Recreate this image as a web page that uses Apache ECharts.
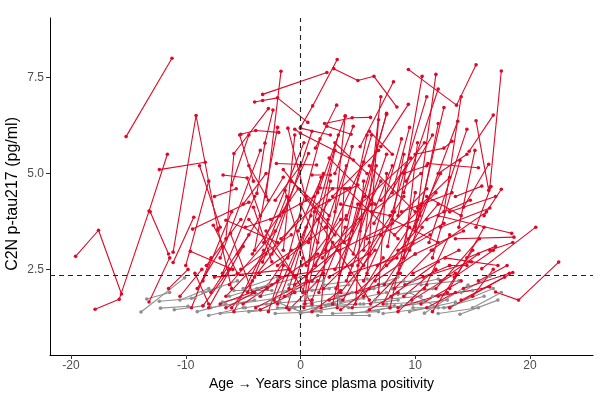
<!DOCTYPE html>
<html lang="en">
<head>
  <meta charset="UTF-8" />
  <title>C2N p-tau217 trajectories</title>
  <script src="https://cdn.jsdelivr.net/npm/echarts@6.0.0/dist/echarts.min.js"></script>
  <style>
    body { margin: 0; background: #fff; }
    #chart { width: 600px; height: 400px; }
  </style>
</head>
<body>
  <div id="chart"></div>
  <script>
    // tick positions
    const xTicks = [-20, -10, 0, 10, 20];
    const yTicks = [2.5, 5.0, 7.5];

    // reference lines
    const thresholdY = 2.35;
    const positivityX = 0;

    // subjects who cross the threshold at some visit: [years, pg/ml] per visit
    const redSubjects = [
      [[-15.2,5.96],[-11.2,8.0]],
      [[-11.1,2.95],[-9.1,6.51],[-7.2,3.52]],
      [[-12.3,5.1],[-8.3,5.29]],
      [[-17.9,1.46],[-15.8,1.72],[-13.2,4.02],[-11.6,5.5]],
      [[-19.6,2.84],[-17.6,3.52],[-15.6,1.86]],
      [[-13.1,4.0],[-11.5,2.9]],
      [[-13.2,1.65],[-11.4,2.8]],
      [[-9.4,3.55],[-4.5,4.25]],
      [[-9.6,2.97],[-5.9,2.5]],
      [[-11.1,2.68],[-9.3,3.86]],
      [[-9.2,2.4],[-8.0,1.6]],
      [[-6.5,3.3],[-5.8,5.52],[-2.8,6.69]],
      [[-5.2,6.02],[-3.9,6.12],[-1.9,6.07]],
      [[-6.75,4.96],[-4.65,4.88],[-3.5,3.9]],
      [[-3.0,4.4],[-1.7,7.66]],
      [[-3.3,7.06],[2.3,7.63]],
      [[0.0,6.2],[1.06,6.76],[3.2,7.97]],
      [[2.9,7.73],[5.0,7.42],[6.4,7.53],[8.4,6.73]],
      [[-4.0,6.86],[-3.3,6.9],[-2.0,6.97],[0.64,6.33]],
      [[9.4,7.71],[13.6,6.78],[15.3,7.83]],
      [[16.5,4.64],[17.5,7.67]],
      [[14.7,5.58],[16.8,6.52]],
      [[15.3,6.37],[16.4,4.56]],
      [[8.5,3.9],[10.6,7.53]],
      [[10.0,3.6],[11.8,7.58]],
      [[5.2,5.7],[8.1,7.39]],
      [[7.0,5.7],[9.4,6.8]],
      [[10.0,3.5],[12.5,6.72]],
      [[9.5,3.0],[13.7,6.36]],
      [[11.2,3.2],[14.5,6.15]],
      [[10.0,5.5],[12.5,5.66],[13.2,5.84]],
      [[11.1,5.26],[15.5,5.15]],
      [[11.5,2.8],[13.9,5.34]],
      [[14.2,4.12],[16.4,5.24]],
      [[15.3,3.6],[16.6,4.66]],
      [[16.0,3.9],[17.5,4.59]],
      [[13.5,4.4],[15.8,4.67]],
      [[17.0,1.91],[19.0,1.7],[22.5,2.69]],
      [[15.8,2.52],[20.5,3.6]],
      [[12.0,3.9],[18.4,3.44]],
      [[13.5,3.3],[18.6,3.34]],
      [[13.0,1.5],[18.5,2.42]],
      [[12.0,1.8],[16.5,2.04]],
      [[13.0,2.6],[14.5,2.6]],
      [[-5.3,6.0],[-4.1,4.8]],
      [[-2.1,5.26],[1.4,5.22]],
      [[-1.5,4.0],[0.7,5.52]],
      [[0.0,6.18],[2.6,6.0]],
      [[2.1,6.3],[4.5,6.45],[6.1,6.46]],
      [[1.5,4.5],[3.9,6.49]],
      [[3.0,5.0],[4.6,6.23]],
      [[4.5,3.5],[7.5,6.54]],
      [[1.0,4.96],[2.6,4.96]],
      [[1.7,4.62],[4.3,4.62]],
      [[-3.8,4.48],[-3.1,5.79],[-2.4,6.65]],
      [[-1.1,6.18],[0.5,4.3]],
      [[-7.6,3.65],[-5.5,2.4]],
      [[-7.2,3.55],[-6.0,2.0]],
      [[-6.5,3.78],[-2.0,3.2]],
      [[-6.1,3.44],[-4.2,1.9]],
      [[-4.1,4.12],[-2.5,2.7]],
      [[-1.35,4.56],[0.5,2.6]],
      [[-3.3,2.69],[-1.0,4.3]],
      [[0.0,3.08],[2.5,4.3]],
      [[0.8,2.74],[3.5,3.8]],
      [[-2.0,1.6],[0.5,3.6]],
      [[-1.0,2.0],[1.8,4.9]],
      [[0.2,1.9],[3.0,5.6]],
      [[0.5,2.3],[4.0,3.9]],
      [[1.0,1.7],[2.8,3.2]],
      [[1.3,2.6],[5.5,5.3]],
      [[2.0,2.0],[6.0,3.2]],
      [[2.2,3.0],[4.5,5.7]],
      [[2.8,1.6],[5.0,4.2]],
      [[3.0,2.5],[7.0,4.8]],
      [[3.5,1.9],[6.5,3.0]],
      [[3.8,3.2],[5.8,6.0]],
      [[4.0,2.2],[8.0,5.2]],
      [[4.5,1.5],[7.2,2.8]],
      [[5.0,2.6],[9.0,4.4]],
      [[5.2,3.5],[7.5,5.5]],
      [[5.5,1.8],[9.5,3.6]],
      [[6.0,2.9],[8.8,5.9]],
      [[6.2,4.0],[10.5,5.0]],
      [[6.5,2.2],[10.0,2.9]],
      [[7.0,3.4],[11.0,4.6]],
      [[7.2,1.6],[9.8,3.2]],
      [[7.5,2.6],[12.0,4.2]],
      [[8.0,4.5],[9.5,6.2]],
      [[8.2,2.0],[11.5,3.0]],
      [[8.5,3.0],[12.5,3.7]],
      [[9.0,1.8],[11.8,2.5]],
      [[9.2,4.8],[11.5,6.0]],
      [[9.8,2.4],[13.8,3.0]],
      [[10.2,4.1],[13.0,4.9]],
      [[10.5,1.6],[14.0,2.2]],
      [[11.0,3.8],[14.8,4.3]],
      [[12.2,2.2],[15.5,2.9]],
      [[14.0,1.7],[17.8,2.3]],
      [[-1.5,5.1],[3.0,3.4]],
      [[0.5,4.4],[5.5,2.6]],
      [[2.5,5.4],[6.5,4.2]],
      [[4.0,4.6],[8.5,3.3]],
      [[-4.5,3.8],[-0.5,2.3]],
      [[6.0,5.2],[10.0,4.0]],
      [[1.5,3.8],[6.0,1.7]],
      [[-3.0,3.5],[1.0,1.6]],
      [[3.5,4.2],[7.8,3.9]],
      [[8.0,3.8],[12.0,3.2]],
      [[-0.5,6.15],[0.0,6.05],[4.6,5.35]],
      [[2.3,6.23],[4.4,6.02]],
      [[1.3,5.66],[3.15,6.78]],
      [[3.0,4.0],[3.9,6.5]],
      [[5.6,4.4],[7.5,6.57]],
      [[-8.5,2.2],[-6.0,4.0]],
      [[-8.0,1.5],[-5.0,3.1]],
      [[-7.0,2.8],[-3.5,5.6]],
      [[-6.5,1.8],[-3.0,2.9]],
      [[-5.5,2.9],[-1.5,4.9]],
      [[-5.0,1.6],[-2.0,2.2]],
      [[-4.8,3.6],[-1.8,3.9]],
      [[-4.0,2.3],[0.0,3.9]],
      [[-3.5,1.8],[-0.8,3.0]],
      [[-2.5,2.9],[1.0,6.1]],
      [[-2.2,4.3],[0.0,5.2]],
      [[-9.5,1.5],[-7.8,2.8]],
      [[-10.0,2.6],[-8.0,4.8]],
      [[-8.8,5.2],[-7.0,3.6]],
      [[-6.0,4.7],[-4.5,6.0]],
      [[10.8,2.0],[13.0,3.4]],
      [[11.5,1.4],[15.0,3.0]],
      [[13.0,2.0],[16.0,3.6]],
      [[14.5,2.8],[17.0,3.1]],
      [[15.0,1.8],[16.8,2.5]],
      [[9.0,2.8],[10.2,5.8]],
      [[7.8,1.5],[10.0,4.5]],
      [[6.8,1.9],[7.5,5.0]],
      [[5.8,2.4],[6.8,6.4]],
      [[4.8,1.6],[5.5,4.8]],
      [[3.2,1.5],[3.8,4.6]],
      [[1.8,1.5],[2.4,3.8]],
      [[0.3,1.5],[1.2,4.0]],
      [[-1.2,1.5],[0.2,2.8]],
      [[-2.8,1.4],[-1.5,2.6]],
      [[-6.0,1.5],[-4.2,2.2]],
      [[8.5,1.5],[12.8,1.9]],
      [[2.5,1.7],[6.8,2.1]],
      [[-1.8,2.3],[4.5,2.6]],
      [[-7.5,2.3],[-1.0,2.5]],
      [[-7.8,1.9],[-4.5,3.4]],
      [[-7.0,1.6],[-2.5,2.1]],
      [[-6.8,2.4],[-4.0,4.4]],
      [[-6.2,2.1],[-2.2,3.5]],
      [[-5.8,1.4],[-3.2,3.0]],
      [[-5.2,2.5],[-0.8,3.4]],
      [[-4.6,1.9],[-1.2,4.4]],
      [[-4.2,2.9],[-0.2,4.6]],
      [[-3.9,1.5],[0.6,2.2]],
      [[-3.6,2.4],[0.8,3.3]],
      [[-3.2,3.2],[0.3,5.8]],
      [[-2.9,2.0],[1.5,2.9]],
      [[-2.6,3.8],[1.2,4.4]],
      [[-2.3,1.7],[0.9,3.9]],
      [[-2.0,2.6],[2.2,3.6]],
      [[-1.7,3.3],[2.8,4.6]],
      [[-1.4,1.8],[2.0,2.4]],
      [[-1.1,2.8],[1.7,5.9]],
      [[-0.8,4.8],[2.5,3.9]],
      [[-0.5,2.1],[3.2,3.0]],
      [[-0.2,3.5],[2.0,5.0]],
      [[0.1,2.6],[4.3,3.3]],
      [[0.4,1.6],[2.6,4.8]],
      [[0.7,3.2],[3.3,6.0]],
      [[1.0,2.2],[5.2,3.8]],
      [[1.3,4.1],[5.0,4.7]],
      [[1.6,1.9],[3.9,3.6]],
      [[1.9,2.8],[6.2,4.2]],
      [[2.2,3.6],[4.0,5.2]],
      [[2.5,2.3],[5.9,2.9]],
      [[2.8,4.4],[6.8,5.6]],
      [[3.1,2.0],[5.5,4.4]],
      [[3.4,3.0],[8.0,3.7]],
      [[3.7,1.7],[7.0,3.4]],
      [[4.0,3.8],[6.2,6.0]],
      [[4.3,2.4],[8.4,2.8]],
      [[4.6,2.9],[6.6,5.2]],
      [[4.9,1.9],[9.0,3.0]],
      [[5.2,4.2],[9.6,5.4]],
      [[5.5,2.2],[8.2,4.0]],
      [[5.8,3.3],[10.2,3.8]],
      [[6.1,1.6],[8.7,2.4]],
      [[6.4,3.7],[9.2,5.2]],
      [[6.7,2.6],[11.3,3.4]],
      [[7.0,4.3],[10.8,5.8]],
      [[7.3,2.1],[10.6,3.6]],
      [[7.6,3.1],[9.0,5.5]],
      [[7.9,1.8],[12.0,2.7]],
      [[8.2,3.4],[11.8,4.5]],
      [[8.5,2.4],[10.5,4.2]],
      [[8.8,4.0],[13.2,4.5]],
      [[9.1,2.1],[13.0,2.6]],
      [[9.4,3.3],[12.2,5.0]],
      [[9.7,1.7],[13.5,2.4]],
      [[10.0,2.9],[14.2,3.5]],
      [[10.4,3.9],[12.0,6.3]],
      [[10.7,2.3],[14.9,2.7]],
      [[11.0,4.4],[14.0,3.9]],
      [[11.4,3.0],[16.2,4.0]],
      [[11.8,2.0],[15.6,3.3]],
      [[12.2,3.6],[16.5,4.1]],
      [[12.6,2.8],[17.2,2.6]],
      [[13.0,4.0],[17.0,4.4]],
      [[13.4,2.3],[16.8,3.0]],
      [[13.8,3.6],[15.2,5.6]],
      [[14.2,2.0],[18.2,2.4]],
      [[-9.0,2.0],[-6.8,3.1]],
      [[-8.2,2.6],[-5.2,3.8]],
      [[-10.5,1.8],[-8.6,2.5]],
      [[-5.0,4.2],[-3.0,5.0]],
      [[-4.5,5.2],[-2.8,4.3]],
      [[-7.5,4.4],[-5.6,4.6]],
      [[0.0,4.2],[1.5,3.2]],
      [[3.0,5.8],[5.8,5.0]],
      [[6.0,6.1],[8.0,5.5]],
      [[9.0,5.0],[11.0,5.2]],
      [[12.0,5.0],[14.5,5.5]],
      [[-3.5,1.45],[-0.5,1.9]],
      [[-1.0,1.45],[1.5,2.2]],
      [[1.0,1.4],[3.5,1.95]],
      [[3.5,1.45],[6.0,2.0]],
      [[6.0,1.45],[8.5,1.9]],
      [[8.5,1.4],[11.0,2.1]],
      [[11.0,1.5],[13.5,1.9]],
      [[-6.5,1.5],[-4.0,1.9]],
      [[-8.5,1.55],[-6.2,2.5]],
      [[15.5,2.2],[18.0,2.6]],
      [[16.5,3.0],[18.5,3.2]],
      [[-11.5,2.0],[-9.8,2.5]],
      [[8.0,4.0],[11.0,7.0]],
      [[9.0,4.5],[12.0,7.2]],
      [[12.5,4.0],[14.0,7.0]],
      [[-4.0,3.0],[-2.0,6.2]],
      [[-1.5,3.0],[-0.5,6.0]],
      [[5.5,3.0],[7.0,7.0]]
    ];

    // subjects who stay below the threshold
    const greySubjects = [
      [[-13.9,1.39],[-10.1,2.28]],
      [[-13.4,1.73],[-11.4,1.9]],
      [[-12.3,1.67],[-9.2,1.75]],
      [[-12.2,1.49],[-9.8,1.54]],
      [[-10.5,1.7],[-8.0,2.0]],
      [[-9.0,1.4],[-6.5,1.6]],
      [[-8.5,1.9],[-5.5,2.2]],
      [[-7.8,1.5],[-4.0,1.7]],
      [[-7.0,1.35],[-3.5,1.45]],
      [[-6.2,1.8],[-2.8,2.1]],
      [[-5.5,1.6],[-1.0,1.8]],
      [[-4.5,1.4],[-0.5,1.5]],
      [[-3.8,2.0],[0.0,2.3]],
      [[-3.0,1.6],[1.0,1.7]],
      [[-2.2,1.35],[1.8,1.4]],
      [[-1.5,1.9],[2.5,2.0]],
      [[-0.8,1.5],[3.0,1.6]],
      [[0.0,1.35],[4.0,1.55]],
      [[0.5,1.8],[4.5,1.9]],
      [[1.2,1.45],[5.5,1.75]],
      [[2.0,2.1],[5.8,2.25]],
      [[2.8,1.35],[6.8,1.4]],
      [[3.5,1.65],[7.5,1.9]],
      [[4.2,1.5],[8.2,1.55]],
      [[5.0,1.9],[9.0,2.2]],
      [[5.8,1.4],[9.8,1.6]],
      [[6.5,1.7],[10.5,1.8]],
      [[7.2,1.35],[11.2,1.5]],
      [[8.0,2.0],[12.0,2.25]],
      [[8.8,1.55],[12.8,1.7]],
      [[9.5,1.4],[13.5,1.65]],
      [[10.8,1.36],[14.6,2.09]],
      [[13.9,1.33],[17.2,1.7]],
      [[12.5,1.5],[16.0,1.8]],
      [[14.0,1.9],[16.5,2.32]],
      [[11.5,1.8],[15.0,1.95]],
      [[-2.5,1.7],[0.0,1.4],[3.5,1.7]],
      [[1.5,1.3],[6.0,1.3]],
      [[6.0,2.0],[8.5,2.3]],
      [[-5.0,2.0],[-2.0,2.3]],
      [[9.5,1.9],[12.0,1.5]],
      [[-11.0,1.45],[-8.5,1.55]],
      [[-9.5,1.75],[-7.0,2.05]],
      [[-8.0,1.3],[-5.0,1.5]],
      [[-6.8,1.65],[-3.8,1.85]],
      [[-5.8,1.95],[-2.5,1.95]],
      [[-4.8,1.5],[-1.8,1.65]],
      [[-3.5,1.8],[-0.5,2.0]],
      [[-2.0,1.5],[1.0,1.55]],
      [[-1.0,2.1],[2.0,2.2]],
      [[0.3,1.6],[3.3,1.75]],
      [[1.0,1.95],[4.2,2.1]],
      [[2.2,1.55],[5.2,1.6]],
      [[3.2,1.8],[6.4,2.0]],
      [[4.5,1.35],[7.8,1.5]],
      [[5.5,1.6],[8.5,1.7]],
      [[6.8,2.1],[9.8,2.2]],
      [[7.5,1.6],[10.6,1.65]],
      [[8.5,1.85],[11.5,2.0]],
      [[9.8,1.5],[13.0,1.5]],
      [[10.5,2.1],[13.8,2.2]],
      [[12.0,1.35],[15.5,1.5]],
      [[13.5,1.6],[16.8,2.0]],
      [[15.0,1.5],[17.5,1.9]]
    ];

    const redColor = '#dc0a28';
    const greyColor = '#8f8f8f';

    function subjectSeries(points, color) {
      return {
        type: 'line',
        data: points,
        symbol: 'circle',
        symbolSize: 3.6,
        showSymbol: true,
        silent: true,
        animation: false,
        lineStyle: { color: color, width: 1.1 },
        itemStyle: { color: color }
      };
    }

    const series = [];
    greySubjects.forEach(p => series.push(subjectSeries(p, greyColor)));
    redSubjects.forEach(p => series.push(subjectSeries(p, redColor)));
    series.push({
      type: 'line',
      data: [],
      silent: true,
      markLine: {
        symbol: 'none',
        silent: true,
        label: { show: false },
        lineStyle: { color: '#222', type: [5, 4], width: 1.1 },
        data: [{ yAxis: thresholdY }, { xAxis: positivityX }]
      },
      z: 5
    });

    const chart = echarts.init(document.getElementById('chart'));
    chart.setOption({
      animation: false,
      grid: { left: 50, right: 7, top: 18, bottom: 45 },
      graphic: [{
        type: 'text',
        left: 5,
        top: 117,
        rotation: Math.PI / 2,
        style: {
          text: 'C2N p-tau217 (pg/ml)',
          fill: '#000',
          fontSize: 16,
          fontFamily: 'Liberation Sans'
        }
      }],
      xAxis: {
        type: 'value',
        min: -21.83,
        max: 25.49,
        name: 'Age \u2192 Years since plasma positivity',
        nameLocation: 'middle',
        nameGap: 21,
        nameTextStyle: { color: '#000', fontSize: 14, fontFamily: 'Liberation Sans' },
        splitLine: { show: false },
        axisLine: { onZero: false, lineStyle: { color: '#000', width: 1 } },
        axisTick: { show: true, length: 4, lineStyle: { color: '#333' }, customValues: xTicks },
        axisLabel: { color: '#4d4d4d', fontSize: 12, margin: 5, fontFamily: 'Liberation Sans', customValues: xTicks }
      },
      yAxis: {
        type: 'value',
        min: 0.27,
        max: 9.05,
        splitLine: { show: false },
        axisLine: { show: true, onZero: false, lineStyle: { color: '#000', width: 1 } },
        axisTick: { show: true, length: 4, lineStyle: { color: '#333' }, customValues: yTicks },
        axisLabel: {
          color: '#4d4d4d', fontSize: 12, margin: 6, fontFamily: 'Liberation Sans',
          customValues: yTicks,
          formatter: v => v.toFixed(1)
        }
      },
      series: series
    });
  </script>
</body>
</html>
